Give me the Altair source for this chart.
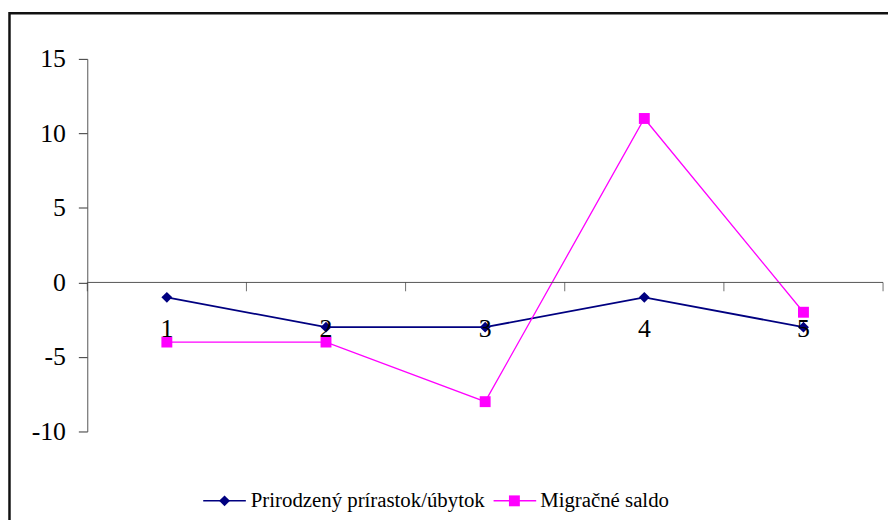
import altair as alt
import pandas as pd

categories = [1, 2, 3, 4, 5]
series_names = ["Prirodzený prírastok/úbytok", "Migračné saldo"]
prirodzeny = [-1, -3, -3, -1, -3]
migracne = [-4, -4, -8, 11, -2]
y_ticks = [-10, -5, 0, 5, 10, 15]
colors = ["#000080", "#FF00FF"]
shapes = ["diamond", "square"]
stroke_widths = [1.8, 1.3]

FONT = "Liberation Serif"

rows = []
for c, a, b in zip(categories, prirodzeny, migracne):
    rows.append({"cat": c, "series": series_names[0], "value": a})
    rows.append({"cat": c, "series": series_names[1], "value": b})
df = pd.DataFrame(rows)

bounds = [c - 0.5 for c in categories] + [categories[-1] + 0.5]
bounds_df = pd.DataFrame({"b": bounds, "zero": [0] * len(bounds)})
axis_df = pd.DataFrame({"lo": [bounds[0]], "hi": [bounds[-1]], "zero": [0]})
cats_df = pd.DataFrame({"cat": categories, "label": [str(c) for c in categories], "zero": [0] * len(categories)})

x_scale = alt.Scale(domain=[bounds[0], bounds[-1]], nice=False, zero=False)
y_scale = alt.Scale(domain=[y_ticks[0], y_ticks[-1]], nice=False, zero=False)

yaxis = alt.Axis(
    values=y_ticks,
    grid=False,
    title=None,
    labelFont=FONT,
    labelFontSize=26,
    labelColor="black",
    labelExpr="'' + datum.value",
    tickSize=9,
    tickColor="#333333",
    domainColor="#555555",
    labelPadding=13,
)


def Y(field):
    return alt.Y(field, scale=y_scale, axis=yaxis)


def X(field):
    return alt.X(field, scale=x_scale, axis=None)


layers = []

for i, name in enumerate(series_names):
    sub = df[df["series"] == name]
    layers.append(
        alt.Chart(sub).mark_line(color=colors[i], strokeWidth=stroke_widths[i]).encode(
            x=X("cat:Q"), y=Y("value:Q")
        )
    )

# x axis line at zero with ticks at category boundaries
layers.append(
    alt.Chart(axis_df).mark_rule(color="#555555", strokeWidth=1).encode(
        x=X("lo:Q"), x2="hi:Q", y=Y("zero:Q")
    )
)
layers.append(
    alt.Chart(bounds_df).mark_tick(color="#333333", thickness=1, size=9, orient="vertical", yOffset=4.5).encode(
        x=X("b:Q"), y=Y("zero:Q")
    )
)

for i, name in enumerate(series_names):
    sub = df[df["series"] == name]
    layers.append(
        alt.Chart(sub).mark_point(filled=True, opacity=1, size=121, shape=shapes[i], color=colors[i]).encode(
            x=X("cat:Q"), y=Y("value:Q")
        )
    )

layers.append(
    alt.Chart(cats_df).mark_text(
        font=FONT, fontSize=26, color="black", baseline="middle", align="center", dy=47
    ).encode(x=X("cat:Q"), y=Y("zero:Q"), text="label:N")
)

# legend (bottom, horizontal), one entry per series
legend_layout = [(117, 160, 138.5, 165), (410, 453, 431, 457)]
legend_y = 446
for i, name in enumerate(series_names):
    x1, x2, xm, xt = legend_layout[i]
    base = alt.Chart(pd.DataFrame({"series": [name]}))
    layers.append(
        base.mark_rule(color=colors[i], strokeWidth=1.5).encode(
            x=alt.value(x1), x2=alt.value(x2), y=alt.value(legend_y)
        )
    )
    layers.append(
        base.mark_point(filled=True, opacity=1, size=121, shape=shapes[i], color=colors[i]).encode(
            x=alt.value(xm), y=alt.value(legend_y)
        )
    )
    layers.append(
        base.mark_text(font=FONT, fontSize=21, color="black", align="left", baseline="middle").encode(
            x=alt.value(xt), y=alt.value(legend_y), text="series:N"
        )
    )

# outer frame (left/top border of the chart area)
layers.append(
    alt.Chart(pd.DataFrame({"k": [0]})).mark_rect(fill="transparent", stroke="#111111", strokeWidth=2.5).encode(
        x=alt.value(-78.5), x2=alt.value(1000), y=alt.value(-46), y2=alt.value(700)
    )
)

chart = alt.layer(*layers).properties(
    width=803,
    height=376,
    autosize=alt.AutoSizeParams(type="none"),
    padding={"left": 80, "top": 49, "right": 5, "bottom": 87},
).configure_view(stroke=None)

chart.save("out.html", embed_options={"renderer": "svg", "actions": False})
